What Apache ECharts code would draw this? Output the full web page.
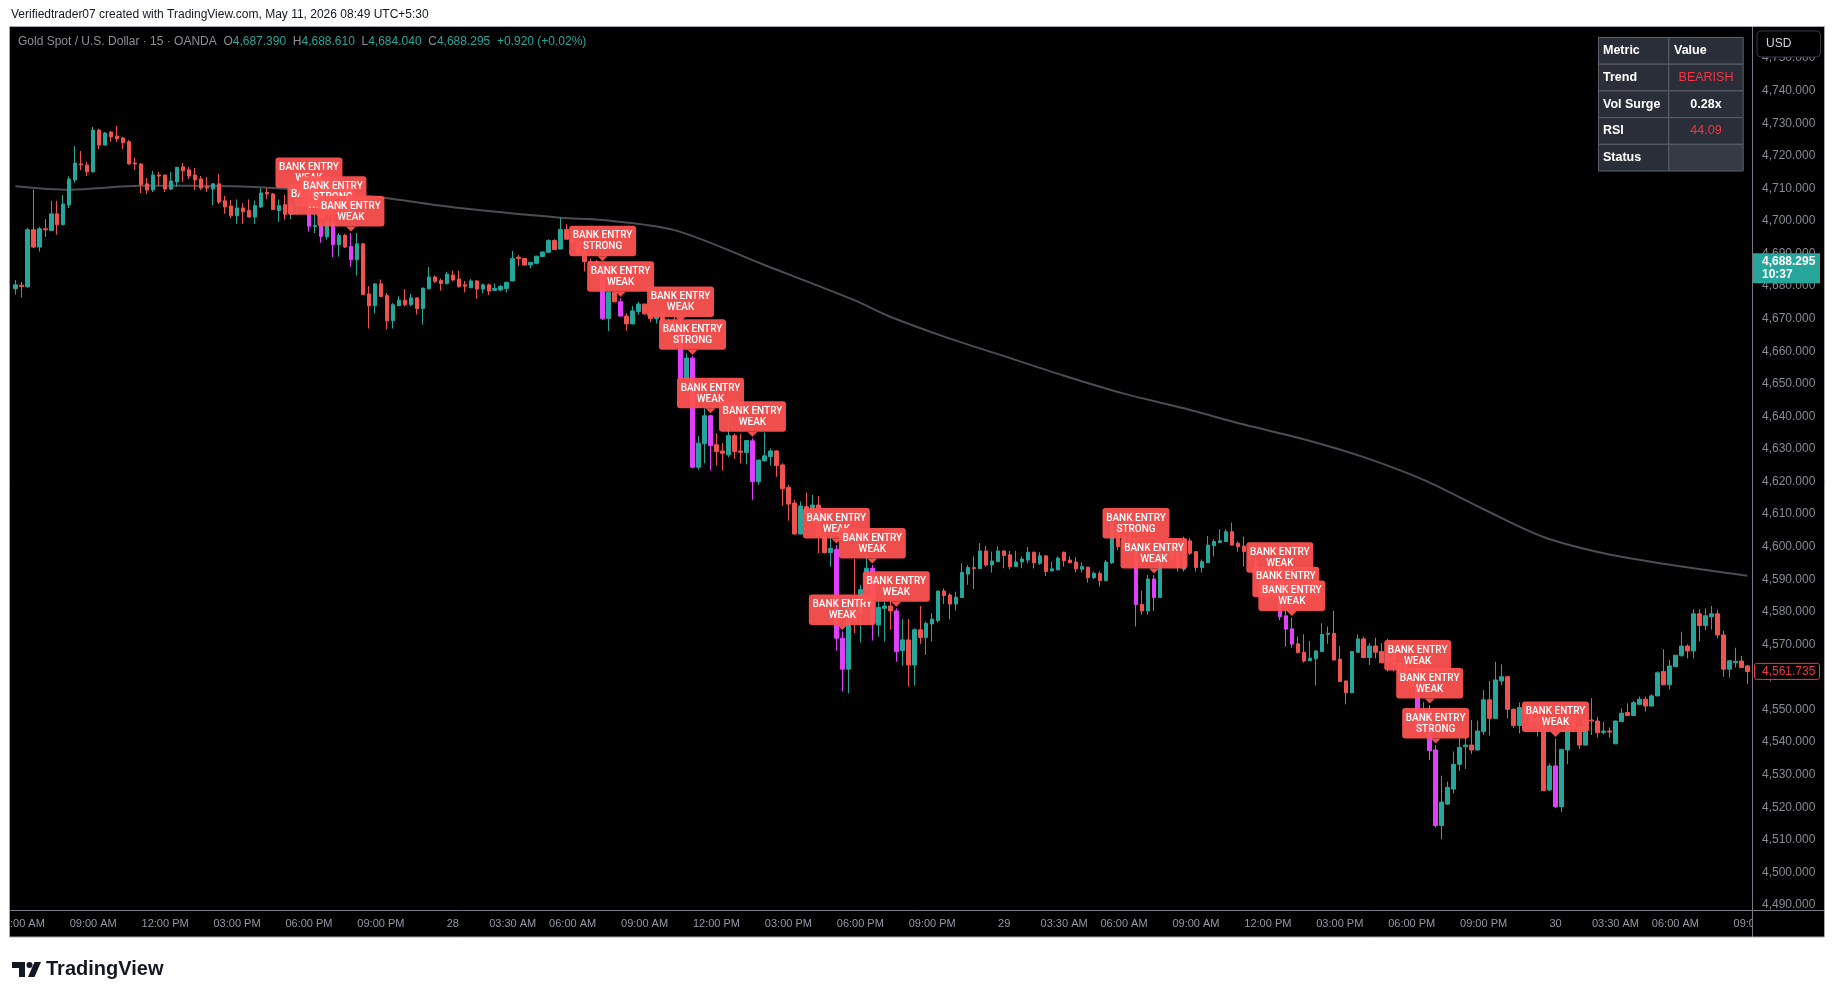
<!DOCTYPE html>
<html><head><meta charset="utf-8">
<script src="https://cdn.jsdelivr.net/npm/echarts@6/dist/echarts.min.js"></script>
<style>html,body{margin:0;padding:0;background:#fff;overflow:hidden}#c{width:1835px;height:1000px}</style>
</head><body><div id="c"></div>
<script>
// ---- candles [open, high, low, close], 15-minute bars, session by session ----
const session27 = [
[4679.2,4681.9,4677.4,4680.4],[4680.3,4681.3,4676.5,4679.9],[4679.8,4697.9,4679.5,4697.3],[4697.3,4709.6,4691.7,4692.0],
[4692.0,4698.2,4690.6,4697.6],[4697.6,4700.6,4695.1,4697.3],[4697.1,4706.2,4697.0,4702.2],[4702.2,4706.2,4695.8,4698.9],
[4698.9,4708.0,4698.6,4705.2],[4704.9,4713.7,4704.0,4712.9],[4712.6,4723.0,4711.8,4717.8],[4717.5,4721.5,4715.6,4717.2],
[4717.2,4718.1,4713.8,4715.1],[4715.1,4728.9,4715.0,4727.9],[4727.9,4728.3,4722.1,4723.3],[4723.3,4727.3,4723.2,4727.0],
[4727.3,4727.6,4724.3,4725.8],[4726.1,4729.2,4724.3,4725.2],[4725.5,4725.8,4722.1,4724.0],[4724.3,4724.9,4717.4,4717.5],
[4717.8,4719.4,4715.7,4717.5],[4717.5,4717.8,4708.6,4711.1],[4711.4,4713.2,4708.3,4709.5],[4709.5,4715.4,4708.9,4714.1],
[4714.1,4715.1,4710.8,4713.8],[4714.1,4714.2,4708.9,4709.8],[4709.8,4715.1,4709.5,4712.3],[4712.0,4716.6,4710.5,4716.5],
[4716.6,4717.8,4712.0,4715.4],[4715.7,4716.6,4712.9,4713.8],[4714.1,4716.3,4709.5,4712.6],[4712.9,4713.8,4709.5,4710.1],
[4710.5,4713.5,4708.9,4710.1],[4709.8,4711.5,4704.9,4711.4],[4711.4,4714.4,4705.2,4705.8],[4706.2,4707.7,4702.2,4704.3],
[4704.6,4706.5,4700.9,4701.6],[4701.6,4706.6,4699.1,4704.0],[4704.0,4705.5,4699.1,4702.8],[4703.2,4706.6,4701.1,4701.2],
[4701.2,4706.3,4699.1,4704.7],[4704.3,4710.1,4704.0,4708.6],[4708.8,4710.1,4706.8,4708.3],[4708.3,4708.6,4703.4,4703.5],
[4703.2,4706.6,4699.7,4704.7],[4705.0,4708.1,4700.4,4702.0],[4702.0,4706.6,4700.6,4704.7],[4704.5,4709.6,4702.0,4708.6],
[4708.3,4709.1,4705.0,4706.0],[4706.6,4708.1,4696.8,4698.4],[4698.3,4704.0,4696.3,4698.6],[4698.6,4699.9,4693.3,4695.3],
[4695.1,4700.9,4694.3,4699.7],[4699.4,4702.4,4688.9,4692.7],[4692.7,4696.3,4689.1,4695.6],[4695.6,4696.0,4691.7,4692.0],
[4692.2,4696.3,4686.0,4688.1],[4688.1,4696.3,4683.3,4693.0],[4693.0,4693.3,4677.3,4677.4],[4677.6,4680.0,4667.0,4674.0],
[4674.0,4680.8,4671.6,4680.7],[4680.7,4682.0,4676.7,4676.8],[4677.1,4677.9,4666.7,4669.4],[4669.4,4674.8,4667.0,4674.3],
[4674.0,4676.9,4673.9,4675.7],[4675.7,4679.1,4673.8,4674.3],[4674.3,4677.6,4673.8,4676.4],[4676.4,4676.5,4671.3,4673.1],
[4673.1,4679.5,4668.2,4679.4],[4679.2,4685.9,4679.1,4682.8],[4682.8,4683.3,4681.0,4681.5],[4681.7,4682.3,4678.6,4680.8],
[4680.8,4684.4,4680.5,4683.7],[4683.4,4684.8,4681.5,4681.9],[4682.2,4684.7,4679.5,4679.9],[4680.4,4681.6,4678.1,4680.0],
[4679.5,4682.2,4679.4,4681.6],[4681.6,4681.9,4676.1,4679.1],[4679.1,4680.8,4677.8,4680.4],[4680.4,4680.8,4677.3,4678.5],
[4678.7,4680.8,4678.5,4679.3],[4678.8,4680.4,4678.5,4679.9],[4679.3,4681.3,4678.1,4681.2]
];
const session28 = [
[4681.6,4690.8,4681.5,4688.5],[4688.9,4689.6,4686.2,4688.5],[4688.5,4688.6,4686.2,4686.5],[4686.5,4687.4,4685.5,4687.3],
[4687.0,4689.3,4686.7,4689.2],[4689.1,4690.6,4689.0,4690.5],[4690.4,4694.4,4690.3,4694.0],[4694.0,4694.4,4691.1,4691.2],
[4691.4,4701.0,4691.3,4697.4],[4697.4,4699.0,4694.3,4694.4],[4694.4,4695.2,4692.8,4693.7],[4693.7,4694.2,4689.6,4690.1],
[4690.6,4691.4,4684.5,4687.5],[4687.5,4688.5,4685.5,4687.2],[4687.5,4688.0,4683.9,4686.5],[4686.7,4687.2,4669.6,4670.1],
[4670.1,4680.4,4666.2,4678.1],[4678.1,4679.3,4675.0,4675.2],[4675.2,4676.3,4670.7,4670.8],[4670.8,4671.7,4666.3,4668.4],
[4668.4,4673.9,4668.3,4672.4],[4672.2,4675.2,4671.2,4674.5],[4674.5,4674.6,4671.2,4671.5],[4671.5,4673.0,4669.0,4670.0],
[4670.0,4672.5,4668.5,4671.5],[4671.5,4672.0,4665.5,4666.6],[4666.6,4670.0,4666.0,4669.3],[4669.3,4670.5,4666.5,4667.6],
[4667.6,4668.5,4651.2,4651.7],[4651.7,4659.4,4651.2,4657.9],[4657.9,4658.5,4624.1,4624.4],[4624.4,4634.0,4623.6,4631.8],
[4631.6,4642.5,4625.6,4640.2],[4640.2,4640.5,4623.4,4631.0],[4631.3,4634.8,4624.9,4629.2],[4629.4,4631.8,4623.4,4628.7],
[4628.2,4638.9,4627.5,4634.1],[4634.1,4634.8,4627.0,4629.2],[4629.4,4634.6,4625.6,4629.0],[4628.9,4632.7,4625.3,4632.6],
[4632.5,4633.3,4614.4,4620.0],[4620.0,4626.7,4619.0,4626.6],[4626.4,4635.1,4626.1,4627.9],[4627.7,4630.2,4624.9,4629.4],
[4629.4,4629.7,4621.5,4624.9],[4625.1,4625.6,4612.6,4617.8],[4618.2,4619.0,4608.0,4613.1],[4613.4,4614.4,4603.8,4603.9],
[4603.9,4613.9,4603.8,4612.5],[4612.3,4616.6,4610.2,4610.3],[4610.3,4615.9,4610.2,4612.8],[4612.8,4615.6,4598.0,4603.1],
[4603.1,4604.1,4597.9,4598.2],[4598.2,4604.1,4593.9,4599.5],[4599.2,4600.5,4568.1,4571.9],[4571.9,4574.0,4555.6,4562.4],
[4562.4,4581.5,4555.0,4581.4],[4580.6,4596.2,4573.5,4577.5],[4579.6,4588.3,4570.6,4586.8],[4586.8,4598.0,4584.2,4593.4],
[4593.4,4594.4,4571.2,4576.5],[4576.0,4583.2,4572.4,4581.4],[4581.1,4591.4,4570.9,4581.8],[4581.8,4583.7,4574.5,4580.3],
[4580.3,4581.1,4564.7,4567.8],[4568.1,4577.8,4563.5,4571.4],[4571.4,4577.8,4557.1,4563.7],[4563.7,4575.0,4557.4,4574.5],
[4574.5,4581.8,4570.2,4572.1],[4572.1,4577.0,4566.8,4576.5],[4576.3,4579.6,4570.9,4577.8],[4577.3,4586.5,4576.7,4586.4],
[4586.4,4587.2,4582.4,4585.0],[4585.2,4585.7,4577.7,4582.4],[4582.4,4586.2,4580.4,4584.5],[4584.4,4594.9,4584.3,4592.1],
[4591.6,4594.4,4588.3,4593.6],[4593.6,4597.0,4587.0,4593.3],[4593.3,4601.1,4593.2,4598.7],[4598.7,4600.2,4593.9,4594.4],
[4594.4,4598.5,4592.1,4595.6],[4595.4,4600.2,4595.3,4598.7],[4598.7,4599.0,4593.4,4597.3],[4597.5,4598.7,4593.1,4593.9],
[4593.9,4598.7,4593.8,4595.3],[4595.3,4597.0,4593.4,4596.2],[4595.9,4599.9,4594.9,4598.3],[4598.3,4598.5,4593.3,4595.1],
[4594.9,4598.3,4594.4,4597.2],[4597.2,4597.5,4591.0,4592.4],[4592.6,4595.4,4592.4,4593.2],[4592.9,4597.0,4592.7,4596.5]
];
const session29 = [
[4598.3,4598.5,4593.9,4595.7],[4595.9,4597.0,4594.9,4595.1],[4595.3,4596.8,4592.1,4593.2],[4593.1,4595.2,4592.1,4593.9],
[4593.7,4593.9,4589.0,4590.5],[4590.5,4592.4,4590.1,4591.8],[4591.8,4592.4,4587.8,4589.6],[4589.6,4595.9,4589.3,4595.3],
[4595.1,4607.7,4594.7,4607.2],[4605.0,4605.7,4599.0,4600.0],[4599.5,4604.1,4598.5,4603.3],[4603.1,4604.1,4599.0,4600.0],
[4599.8,4600.5,4575.5,4582.3],[4582.3,4586.5,4579.1,4580.3],[4580.3,4591.3,4579.1,4590.1],[4590.1,4591.3,4580.3,4584.4],
[4584.4,4601.3,4584.3,4600.9],[4600.5,4601.6,4597.5,4598.0],[4596.5,4600.0,4595.9,4599.0],[4598.0,4599.0,4592.4,4593.9],
[4593.1,4603.1,4592.4,4601.6],[4601.8,4602.6,4597.5,4598.0],[4598.5,4598.6,4592.4,4593.6],[4593.6,4596.1,4592.1,4595.4],
[4595.1,4603.3,4595.0,4600.5],[4600.3,4602.3,4597.0,4601.6],[4601.3,4605.4,4601.2,4601.8],[4601.6,4605.4,4601.5,4604.6],
[4604.6,4607.4,4600.4,4600.5],[4601.1,4601.6,4598.5,4600.0],[4600.2,4603.1,4593.9,4598.5],[4598.5,4600.0,4595.0,4596.0],
[4596.0,4597.0,4590.5,4591.0],[4591.0,4592.5,4587.5,4588.0],[4588.0,4590.5,4587.0,4589.5],[4589.5,4590.0,4583.5,4584.5],
[4584.0,4590.0,4577.5,4578.5],[4578.8,4582.5,4569.3,4574.7],[4574.8,4578.3,4569.0,4570.1],[4570.2,4572.4,4567.3,4567.5],
[4567.6,4573.1,4564.4,4564.9],[4565.0,4571.1,4564.9,4565.8],[4565.6,4568.3,4557.4,4568.0],[4567.8,4576.5,4567.7,4573.1],
[4573.1,4575.5,4570.2,4573.4],[4573.4,4580.3,4565.1,4565.2],[4565.5,4569.5,4558.4,4558.6],[4558.8,4558.9,4551.6,4555.2],
[4555.2,4568.0,4555.0,4567.8],[4567.6,4573.1,4567.5,4571.7],[4571.7,4572.4,4565.7,4566.0],[4566.0,4570.4,4563.7,4569.5],
[4569.5,4572.1,4565.7,4567.6],[4567.8,4570.4,4564.2,4564.4],[4564.4,4571.7,4561.7,4567.0],[4567.3,4567.8,4561.7,4563.9],
[4560.8,4564.7,4559.1,4564.4],[4564.2,4564.7,4559.1,4559.6],[4559.6,4560.1,4556.5,4557.1],[4557.1,4560.0,4544.3,4544.8],
[4544.3,4552.4,4544.1,4549.6],[4549.4,4551.4,4534.5,4537.4],[4537.6,4539.1,4513.8,4514.4],[4514.4,4529.7,4510.2,4521.6],
[4521.0,4527.9,4520.7,4526.1],[4525.6,4537.1,4524.3,4533.2],[4533.2,4541.5,4531.2,4538.4],[4538.6,4541.7,4531.8,4539.1],
[4539.1,4546.8,4536.4,4537.6],[4537.6,4546.6,4537.4,4543.4],[4543.2,4556.0,4542.2,4553.0],[4553.0,4558.8,4542.0,4547.3],
[4547.3,4564.7,4547.2,4559.1],[4558.8,4563.9,4557.4,4560.1],[4560.1,4560.2,4547.3,4550.1],[4550.1,4550.4,4544.3,4545.1],
[4545.1,4552.2,4542.7,4550.6],[4550.6,4552.0,4547.0,4548.5],[4548.5,4551.0,4544.5,4544.8],[4544.5,4551.4,4541.7,4547.3],
[4547.8,4551.4,4525.0,4525.1],[4525.3,4533.5,4525.0,4532.7],[4532.7,4541.1,4519.8,4520.2],[4520.2,4537.9,4518.5,4537.8],
[4537.6,4548.9,4533.2,4547.8],[4547.8,4549.0,4543.0,4544.5],[4544.5,4545.0,4537.9,4539.1],[4539.1,4548.4,4539.0,4546.8],
[4546.8,4553.5,4542.2,4546.5],[4546.5,4547.8,4541.4,4542.9],[4543.0,4546.3,4542.4,4543.4],[4543.4,4544.5,4541.4,4543.1]
];
const session30 = [
[4539.5,4546.6,4539.4,4546.5],[4546.3,4550.4,4546.2,4548.9],[4549.1,4551.9,4548.1,4548.2],[4548.2,4552.7,4548.1,4552.1],
[4551.6,4554.0,4551.5,4553.2],[4553.2,4554.0,4549.4,4551.1],[4551.1,4554.7,4551.0,4554.2],[4554.2,4561.7,4554.1,4561.3],
[4561.7,4568.5,4557.5,4557.6],[4557.6,4565.2,4556.2,4563.4],[4563.2,4566.8,4563.1,4566.7],[4566.5,4573.9,4566.4,4569.5],
[4569.5,4570.0,4565.7,4568.0],[4568.0,4580.8,4565.7,4579.4],[4579.4,4580.8,4570.9,4575.8],[4575.8,4581.1,4574.4,4578.8],
[4578.5,4581.8,4574.6,4579.4],[4579.4,4580.6,4571.9,4572.9],[4572.9,4574.2,4560.1,4562.4],[4562.4,4565.2,4559.8,4565.0],
[4564.4,4569.0,4562.9,4564.8],[4564.9,4566.5,4562.8,4562.9],[4563.4,4563.7,4557.8,4561.7]
];
// 200-period moving average, sampled points [bar index, value]
const maPoints = [[0,4710.7],[9,4709.6],[21,4710.8],[36,4710.7],[58,4707.9],[73,4704.2],[91,4701.0],[98,4700.3],
[110,4697.2],[125,4686.5],[140,4675.7],[146,4670.6],[155,4664.5],[165,4658.5],[175,4652.5],[185,4647.0],[195,4642.5],
[205,4637.5],[215,4633.0],[225,4627.5],[235,4620.5],[245,4611.5],[255,4603.0],[265,4598.0],[275,4594.8],[289,4591.1]];
// "BANK ENTRY" signal bars
const bankIdx = [49,51,53,56,98,101,111,113,116,123,137,138,143,147,187,190,211,212,213,234,236,237,257];
const bankStrength = ['WEAK','WEAK','STRONG','WEAK','STRONG','WEAK','WEAK','STRONG','WEAK','WEAK','WEAK','WEAK','WEAK','WEAK','STRONG','WEAK','WEAK','WEAK','WEAK','WEAK','WEAK','STRONG','WEAK'];
// time axis tick labels [bar index, text]
const timeTicks = [[1,'06:00 AM'],[13,'09:00 AM'],[25,'12:00 PM'],[37,'03:00 PM'],[49,'06:00 PM'],[61,'09:00 PM'],[73,'28'],
[83,'03:30 AM'],[93,'06:00 AM'],[105,'09:00 AM'],[117,'12:00 PM'],[129,'03:00 PM'],[141,'06:00 PM'],[153,'09:00 PM'],[165,'29'],
[175,'03:30 AM'],[185,'06:00 AM'],[197,'09:00 AM'],[209,'12:00 PM'],[221,'03:00 PM'],[233,'06:00 PM'],[245,'09:00 PM'],[257,'30'],
[267,'03:30 AM'],[277,'06:00 AM'],[289,'09:00']];
// texts
const topCredit = 'Verifiedtrader07 created with TradingView.com, May 11, 2026 08:49 UTC+5:30';
const symbolTitle = 'Gold Spot / U.S. Dollar · 15 · OANDA';
const ohlcKeys = ['O','H','L','C'];
const ohlcVals = ['4,687.390','4,688.610','4,684.040','4,688.295'];
const changeText = '+0.920 (+0.02%)';
const tableLabels = ['Metric','Trend','Vol Surge','RSI','Status'];
const tableValues = ['Value','BEARISH','0.28x','44.09',''];
const tableValueColors = ['#ffffff','#f23645','#ffffff','#f23645','#ffffff'];
const currentPrice = 4688.295, currentPriceText = '4,688.295', countdownText = '10:37';
const lastClose = 4561.735, lastCloseText = '4,561.735';
const yMin = 4480, yMax = 4760, yStep = 10;

const UP = '#26a69a', DOWN = '#ef5350', MAG = '#e040fb', LBL = 'rgba(255,82,82,0.94)';
const FONT = "'Liberation Sans', Arial, sans-serif";

const allCandles = session27.concat(session28, session29, session30);
const cats = allCandles.map((_, i) => String(i));
const tickMap = {}; timeTicks.forEach(t => { tickMap[t[0]] = t[1]; });
const magSet = new Set(bankIdx);
const candleData = allCandles.map((c, i) => {
  const v = [c[0], c[3], c[2], c[1]];
  if (magSet.has(i)) return { value: v, itemStyle: { color: MAG, color0: MAG, borderColor: MAG, borderColor0: MAG } };
  return v;
});
const labelData = bankIdx.map(i => [i, allCandles[i][1]]);
const fmtPrice = v => v.toLocaleString('en-US', { minimumFractionDigits: 3, maximumFractionDigits: 3 });

const chart = echarts.init(document.getElementById('c'), null, { renderer: 'canvas', width: 1835, height: 1000 });
chart.setOption({
  backgroundColor: '#ffffff',
  animation: false,
  grid: { left: 12.3, top: 25.55, width: 1738, height: 912.05, containLabel: false, outerBoundsMode: 'none', show: false },
  xAxis: {
    type: 'category', data: cats, boundaryGap: true, position: 'bottom', offset: -27,
    axisLine: { show: false }, axisTick: { show: false }, splitLine: { show: false },
    axisLabel: {
      interval: (i) => tickMap[i] !== undefined,
      formatter: (v, i) => tickMap[i] || '',
      color: '#9598a1', fontSize: 11, fontFamily: FONT, margin: 8, hideOverlap: false
    }
  },
  yAxis: {
    type: 'value', position: 'right', min: yMin, max: yMax, interval: yStep,
    splitLine: { show: false }, axisLine: { show: false }, axisTick: { show: false },
    axisLabel: {
      margin: 11.7, color: '#878a93', fontSize: 12, fontFamily: FONT, hideOverlap: false,
      formatter: v => (v <= yMin || v >= yMax) ? '' : fmtPrice(v)
    }
  },
  series: [
    { type: 'line', data: maPoints, smooth: 0.3, symbol: 'none', z: 2,
      lineStyle: { color: '#4c4c52', width: 2 }, silent: true },
    { type: 'candlestick', data: candleData, barWidth: 4, z: 3, silent: true,
      itemStyle: { color: UP, color0: DOWN, borderColor: UP, borderColor0: DOWN, borderWidth: 1 } },
    { type: 'custom', data: labelData, z: 5, silent: true, clip: false,
      encode: { x: 0, y: 1 },
      renderItem: function (params, api) {
        const p = api.coord([api.value(0), api.value(1)]);
        const tip = p[1] - 1.5, bottom = tip - 5, h = 30.5, w = 67, top = bottom - h;
        return { type: 'group', children: [
          { type: 'rect', shape: { x: p[0] - w / 2, y: top, width: w, height: h, r: 3 }, style: { fill: LBL } },
          { type: 'polygon', shape: { points: [[p[0] - 5, bottom], [p[0] + 5, bottom], [p[0], tip]] }, style: { fill: LBL } },
          { type: 'text', x: p[0], y: top + h / 2 + 0.5, style: {
              text: 'BANK ENTRY\n' + bankStrength[params.dataIndex], fill: '#ffffff',
              font: "500 10px Roboto, 'Liberation Sans', sans-serif", lineHeight: 11,
              align: 'center', verticalAlign: 'middle', textAlign: 'center', textVerticalAlign: 'middle' } }
        ] };
      }
    }
  ]
});

const yCur = chart.convertToPixel({ yAxisIndex: 0 }, currentPrice);
const yLast = chart.convertToPixel({ yAxisIndex: 0 }, lastClose);

function T(x, y, text, fill, font, align, extra) {
  return Object.assign({ type: 'text', x: x, y: y, z: 100, silent: true,
    style: { text: text, fill: fill, font: font, align: align || 'left', verticalAlign: 'middle',
             textAlign: align || 'left', textVerticalAlign: 'middle' } }, extra || {});
}
const els = [];
els.push({ type: 'rect', z: -10, silent: true, shape: { x: 10, y: 27, width: 1815, height: 910 }, style: { fill: '#000000' } });
els.push({ type: 'rect', z: 100, silent: true, shape: { x: 0, y: 905, width: 10, height: 40 }, style: { fill: '#ffffff' } });
els.push({ type: 'rect', z: 100, silent: true, shape: { x: 1753, y: 911, width: 71, height: 25 }, style: { fill: '#000000' } });
els.push({ type: 'line', z: 101, silent: true, shape: { x1: 1752.5, y1: 27, x2: 1752.5, y2: 937 }, style: { stroke: '#787b86', lineWidth: 1 } });
els.push({ type: 'line', z: 101, silent: true, shape: { x1: 10, y1: 910.5, x2: 1825, y2: 910.5 }, style: { stroke: '#787b86', lineWidth: 1 } });
els.push({ type: 'rect', z: 101, silent: true, shape: { x: 9.5, y: 26.5, width: 1815, height: 910.5 }, style: { fill: null, stroke: '#a3a6ae', lineWidth: 1 } });
els.push(T(11, 15, topCredit, '#131722', "12px " + FONT));
let rt = '{g|' + symbolTitle + ' }';
ohlcKeys.forEach((k, i) => { rt += '{g| ' + k + '}{v|' + ohlcVals[i] + '} '; });
rt += '{v| ' + changeText + '}';
els.push({ type: 'text', x: 18, y: 42, z: 100, silent: true, style: {
  text: rt, verticalAlign: 'middle', textVerticalAlign: 'middle', font: '12px ' + FONT,
  rich: { g: { fill: '#8c8f98', font: '12px ' + FONT }, v: { fill: '#26a69a', font: '12px ' + FONT } } } });
const tX = [1598.5, 1668.8], tW = [70.3, 74.4], tY0 = 37.5, tH = 26.7;
tableLabels.forEach((lab, r) => {
  const y = tY0 + r * tH;
  els.push({ type: 'rect', z: 100, silent: true, shape: { x: tX[0], y: y, width: tW[0], height: tH }, style: { fill: '#2a2e39', stroke: '#5d606b', lineWidth: 1 } });
  els.push({ type: 'rect', z: 100, silent: true, shape: { x: tX[1], y: y, width: tW[1], height: tH }, style: { fill: r === 4 ? '#363a45' : '#2a2e39', stroke: '#5d606b', lineWidth: 1 } });
  els.push(T(1603, y + tH / 2, lab, '#ffffff', 'bold 12.5px ' + FONT, 'left', { z: 102 }));
  if (r === 0) els.push(T(1674, y + tH / 2, tableValues[r], '#ffffff', 'bold 12.5px ' + FONT, 'left', { z: 102 }));
  else if (tableValues[r]) els.push(T(1706, y + tH / 2, tableValues[r], tableValueColors[r], (r === 2 ? 'bold ' : '') + '12.5px ' + FONT, 'center', { z: 102 }));
});
els.push({ type: 'rect', z: 100, silent: true, shape: { x: 1757, y: 31, width: 63.5, height: 26, r: 4 }, style: { fill: '#000000', stroke: '#363a45', lineWidth: 1 } });
els.push(T(1766, 44, 'USD', '#d1d4dc', '12px ' + FONT, 'left', { z: 102 }));
els.push({ type: 'rect', z: 100, silent: true, shape: { x: 1753, y: yCur - 5.8, width: 67, height: 30 }, style: { fill: '#26a69a' } });
els.push(T(1762, yCur + 2.4, currentPriceText, '#ffffff', 'bold 12px ' + FONT, 'left', { z: 102 }));
els.push(T(1762, yCur + 15.9, countdownText, '#ffffff', 'bold 12px ' + FONT, 'left', { z: 102 }));
els.push({ type: 'rect', z: 100, silent: true, shape: { x: 1754.5, y: yLast - 8, width: 65, height: 16, r: 2 }, style: { fill: '#000000', stroke: '#f23645', lineWidth: 1 } });
els.push(T(1762, yLast + 0.5, lastCloseText, '#f23645', '12px ' + FONT, 'left', { z: 102 }));
els.push({ type: 'polygon', z: 100, silent: true, shape: { points: [[12, 962], [25, 962], [25, 977], [19, 977], [19, 968], [12, 968]] }, style: { fill: '#131722' } });
els.push({ type: 'circle', z: 100, silent: true, shape: { cx: 29.5, cy: 965, r: 3 }, style: { fill: '#131722' } });
els.push({ type: 'polygon', z: 100, silent: true, shape: { points: [[28, 977], [34.5, 962], [41, 962], [34.5, 977]] }, style: { fill: '#131722' } });
els.push(T(46, 969.5, 'TradingView', '#131722', 'bold 20px ' + FONT));

chart.setOption({ graphic: { elements: els } });
</script>
</body></html>
